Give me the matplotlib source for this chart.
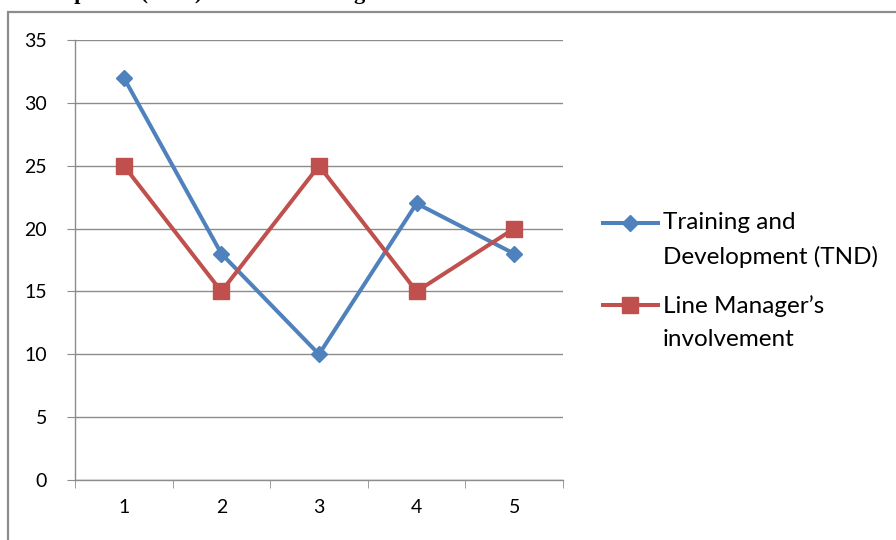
import matplotlib.pyplot as plt
from matplotlib.patches import Rectangle
from matplotlib.legend_handler import HandlerLine2D

# series values read per period
periods = [1, 2, 3, 4, 5]
tnd = [32, 18, 10, 22, 18]
line_mgr = [25, 15, 25, 15, 20]
labels = ["Training and\nDevelopment (TND)", "Line Manager\u2019s\ninvolvement"]
title = "Development (TND) and Line Manager\u2019s involvement"


class TopLineHandler(HandlerLine2D):
    """Legend key drawn level with the first line of a two-line label."""

    def create_artists(self, legend, orig_handle, xdescent, ydescent,
                       width, height, fontsize, trans):
        arts = super().create_artists(legend, orig_handle, xdescent, ydescent,
                                      width, height, fontsize, trans)
        for a in arts:
            a.set_ydata([y + 12.6 for y in a.get_ydata()])
        return arts


W, H = 896, 540
fig = plt.figure(figsize=(W / 100, H / 100), dpi=100)

# outer chart frame, only top and left edges are on the page
fig.patches.append(Rectangle((8 / W, -0.1), 1.2, (H - 12) / H + 0.1,
                             transform=fig.transFigure, fill=False,
                             edgecolor="#8c8c8c", linewidth=1.6))

# heading sits above the page edge, only descenders show
fig.text(10 / W, 1 + 1 / H, title, family="Liberation Serif", weight="bold",
         fontsize=16, va="baseline", ha="left")

ax = fig.add_axes([75 / W, 60 / H, (563 - 75) / W, 440 / H])
l1, = ax.plot(periods, tnd, color="#4F81BD", lw=2.9, marker="D", ms=8,
              label=labels[0], zorder=3)
l2, = ax.plot(periods, line_mgr, color="#C0504D", lw=2.9, marker="s", ms=11,
              label=labels[1], zorder=3)

ax.set_xlim(0.5, 5.5)
ax.set_ylim(0, 35)
ax.set_yticks(range(0, 36, 5))
ax.set_xticks(periods)
ax.set_xticks([0.5 + i for i in range(6)], minor=True)
ax.grid(axis="y", color="#8c8c8c", lw=1)
ax.set_axisbelow(True)
for s in ["top", "right"]:
    ax.spines[s].set_visible(False)
for s in ["left", "bottom"]:
    ax.spines[s].set_color("#8c8c8c")
    ax.spines[s].set_linewidth(1)
ax.tick_params(axis="y", direction="out", length=6, color="#8c8c8c",
               labelsize=14, pad=14)
ax.tick_params(axis="x", which="major", length=0, labelsize=14, pad=14)
ax.tick_params(axis="x", which="minor", direction="out", length=6,
               color="#8c8c8c")
for t in ax.get_xticklabels() + ax.get_yticklabels():
    t.set_family("Lato")

leg = fig.legend(loc="upper left", bbox_to_anchor=(603 / W, 1 - 212 / H),
                 frameon=False, prop={"family": "Lato", "size": 17.5},
                 borderpad=0, borderaxespad=0,
                 handlelength=2.26, handletextpad=0.2, labelspacing=1.1,
                 handler_map={l1: TopLineHandler(), l2: TopLineHandler()})
for t in leg.get_texts():
    t.set_linespacing(1.72)

fig.savefig("out.png", dpi=100)
